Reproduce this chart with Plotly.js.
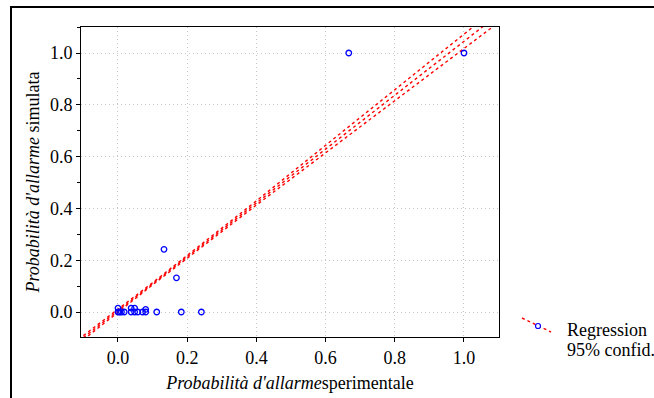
<!DOCTYPE html>
<html>
<head>
<meta charset="utf-8">
<script src="https://cdn.plot.ly/plotly-3.0.1.min.js"></script>
<style>
  html, body { margin: 0; padding: 0; background: #fff; }
  #wrap { position: relative; width: 654px; height: 398px; overflow: hidden; }
  #chart { position: absolute; left: 0; top: 0; width: 654px; height: 398px; }
  #chart text { font-family: 'Liberation Serif', serif !important; }
  #frame { position: absolute; left: 10px; top: 6px; width: 700px; height: 450px;
           border-left: 2px solid #000; border-top: 2px solid #000; pointer-events: none; }
</style>
</head>
<body>
<div id="wrap">
  <div id="chart"></div>
  <div id="frame"></div>
</div>
<script>
// Observed (experimental) vs simulated alarm probabilities
const obsX = [0.0, 0.0, 0.005, 0.01, 0.018, 0.038, 0.038, 0.048, 0.048, 0.057,
              0.071, 0.08, 0.08, 0.112, 0.183, 0.241, 0.133, 0.169, 0.667, 1.0];
const simY = [0.015, 0.0, 0.0, 0.0, 0.0, 0.015, 0.0, 0.015, 0.0, 0.0,
              0.0, 0.01, 0.0, 0.0, 0.0, 0.0, 0.242, 0.132, 1.0, 1.0];

// Regression line
const regX = [-0.1, 1.1];
const regY = [-0.099, 1.149];

// 95% confidence bands
const bandX = [-0.1, 0.1, 0.4, 0.7, 1.0, 1.1];
const bandUpper = [-0.091, 0.113, 0.429, 0.750, 1.072, 1.180];
const bandLower = [-0.107, 0.105, 0.413, 0.716, 1.018, 1.118];

// Tick labels
const xTicks = [0.0, 0.2, 0.4, 0.6, 0.8, 1.0];
const xTickText = ['0.0', '0.2', '0.4', '0.6', '0.8', '1.0'];
const yTicks = [0.0, 0.2, 0.4, 0.6, 0.8, 1.0];
const yTickText = ['0.0', '0.2', '0.4', '0.6', '0.8', '1.0'];

const serif = "Liberation Serif";
const red = '#ff0000';
const dashStyle = '3px,3px';

const traces = [
  { x: regX, y: regY, mode: 'lines', line: { color: red, width: 1.4, dash: dashStyle },
    showlegend: false, hoverinfo: 'skip', name: 'Regression' },
  { x: bandX, y: bandUpper, mode: 'lines', line: { color: red, width: 1.4, dash: dashStyle },
    showlegend: false, hoverinfo: 'skip', name: '95% confid.' },
  { x: bandX, y: bandLower, mode: 'lines', line: { color: red, width: 1.4, dash: dashStyle },
    showlegend: false, hoverinfo: 'skip', name: '95% confid.' },
  { x: obsX, y: simY, mode: 'markers',
    marker: { symbol: 'circle-open', size: 5.5, color: '#0000ff', line: { width: 1.3, color: '#0000ff' } },
    showlegend: false, name: 'data' }
];

// plot area: left 81, right 499, top 27, bottom 337
const L = 81, R = 499, T = 27, B = 337;
const px = v => (v - L) / (R - L);
const py = v => (B - v) / (B - T);

const layout = {
  width: 654, height: 398,
  margin: { l: L, r: 654 - R, t: T, b: 398 - B },
  paper_bgcolor: 'rgba(0,0,0,0)', plot_bgcolor: '#fff',
  font: { family: serif, size: 18, color: '#000' },
  showlegend: false,
  xaxis: {
    range: [-0.1069, 1.1012], tickvals: xTicks, ticktext: xTickText,
    showline: true, linecolor: '#000', linewidth: 1, mirror: true,
    ticks: 'outside', ticklen: 4, tickcolor: '#000',
    showgrid: true, gridcolor: '#c8c8c8', griddash: '1px,3px', gridwidth: 1,
    zeroline: false, automargin: false,
    tickfont: { family: serif, size: 18, color: '#000' },
    title: { text: "<i>Probabilità d'allarme</i>sperimentale", font: { family: serif, size: 18, color: '#000' }, standoff: 9 }
  },
  yaxis: {
    range: [-0.0965, 1.1004], tickvals: yTicks, ticktext: yTickText,
    showline: true, linecolor: '#000', linewidth: 1, mirror: true,
    ticks: 'outside', ticklen: 4, tickcolor: '#000',
    minor: { dtick: 0.1, tick0: 0, ticks: 'outside', ticklen: 3, tickcolor: '#000', showgrid: false },
    showgrid: true, gridcolor: '#c8c8c8', griddash: '1px,3px', gridwidth: 1,
    zeroline: false, automargin: false,
    tickfont: { family: serif, size: 18, color: '#000' },
    title: { text: "<i>Probabilità d'allarme</i> simulata", font: { family: serif, size: 18, color: '#000' }, standoff: 5 }
  },
  shapes: [
    { type: 'line', xref: 'paper', yref: 'paper',
      x0: px(522), y0: py(318), x1: px(551), y1: py(332),
      line: { color: red, width: 1.4, dash: dashStyle } },
    { type: 'circle', xref: 'paper', yref: 'paper',
      x0: px(535.5), x1: px(540.5), y0: py(328.5), y1: py(323.5),
      line: { color: '#0000ff', width: 1.2 }, fillcolor: '#fff' }
  ],
  annotations: [
    { xref: 'paper', yref: 'paper', x: px(565), y: py(330), xanchor: 'left', yanchor: 'middle',
      text: 'Regression', showarrow: false, font: { family: serif, size: 18, color: '#000' } },
    { xref: 'paper', yref: 'paper', x: px(565), y: py(350), xanchor: 'left', yanchor: 'middle',
      text: '95% confid.', showarrow: false, font: { family: serif, size: 18, color: '#000' } }
  ]
};

Plotly.newPlot('chart', traces, layout, { displayModeBar: false, staticPlot: true });
</script>
</body>
</html>
